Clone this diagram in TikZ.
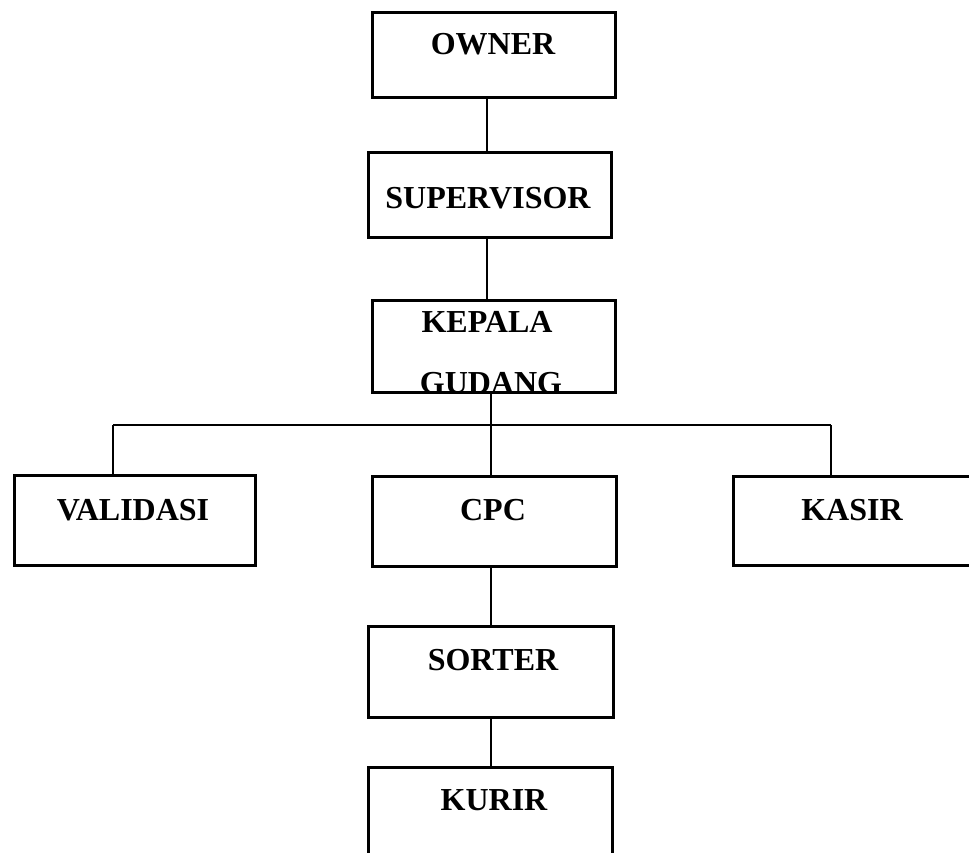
\documentclass[tikz,border=0pt]{standalone}
\usepackage{fontspec}
\setmainfont{Liberation Serif}
\begin{document}
\begin{tikzpicture}[x=1pt,y=-1pt,
  orgbox/.style={draw=black,line width=3pt,rectangle,inner sep=0pt,fill=none},
  lbl/.style={anchor=base,inner sep=0pt,font=\fontsize{32}{38}\selectfont\bfseries},
  conn/.style={draw=black,line width=1.3pt}]
\useasboundingbox (0,0) rectangle (969,853);
\clip (0,0) rectangle (969,853);
\fill[white] (0,0) rectangle (969,853);
% boxes
\node[orgbox,minimum width=243pt,minimum height=85pt] (owner) at (494,55) {};
\node[orgbox,minimum width=243pt,minimum height=85pt] (supervisor) at (490,195) {};
\node[orgbox,minimum width=243pt,minimum height=92pt] (kepala) at (494,346.5) {};
\node[orgbox,minimum width=241pt,minimum height=90pt] (validasi) at (135,520.5) {};
\node[orgbox,minimum width=244pt,minimum height=90pt] (cpc) at (494.5,521.5) {};
\node[orgbox,minimum width=241pt,minimum height=89pt] (kasir) at (854,521) {};
\node[orgbox,minimum width=245pt,minimum height=91pt] (sorter) at (491,672) {};
\node[orgbox,minimum width=244pt,minimum height=91pt] (kurir) at (490.5,813) {};
% labels
\node[lbl] (owner-t) at (493,55) {OWNER};
\node[lbl] (supervisor-t) at (488,208) {SUPERVISOR};
\node[lbl] (kepala-t1) at (487,332) {KEPALA};
\node[lbl] (kepala-t2) at (491,393) {GUDANG};
\node[lbl] (validasi-t) at (133,520) {VALIDASI};
\node[lbl] (cpc-t) at (493,520) {CPC};
\node[lbl] (kasir-t) at (852,520) {KASIR};
\node[lbl] (sorter-t) at (493,670) {SORTER};
\node[lbl] (kurir-t) at (494,810) {KURIR};
% connectors
\coordinate (c1) at (487,99);
\coordinate (c2) at (487,239);
\coordinate (c3) at (491,394);
\coordinate (busL) at (113,425);
\coordinate (busR) at (831,425);
\draw[conn] (c1) -- (c1 |- supervisor.north);
\draw[conn] (c2) -- (c2 |- kepala.north);
\draw[conn] (c3) -- (c3 |- cpc.north);
\draw[conn] (busL) -- (busR);
\draw[conn] (busL) -- (busL |- validasi.north);
\draw[conn] (busR) -- (busR |- kasir.north);
\draw[conn] ([xshift=-3.5pt]cpc.south) -- ([xshift=-3.5pt]cpc.south |- sorter.north);
\draw[conn] (sorter.south) -- (sorter.south |- kurir.north);
\end{tikzpicture}
\end{document}
